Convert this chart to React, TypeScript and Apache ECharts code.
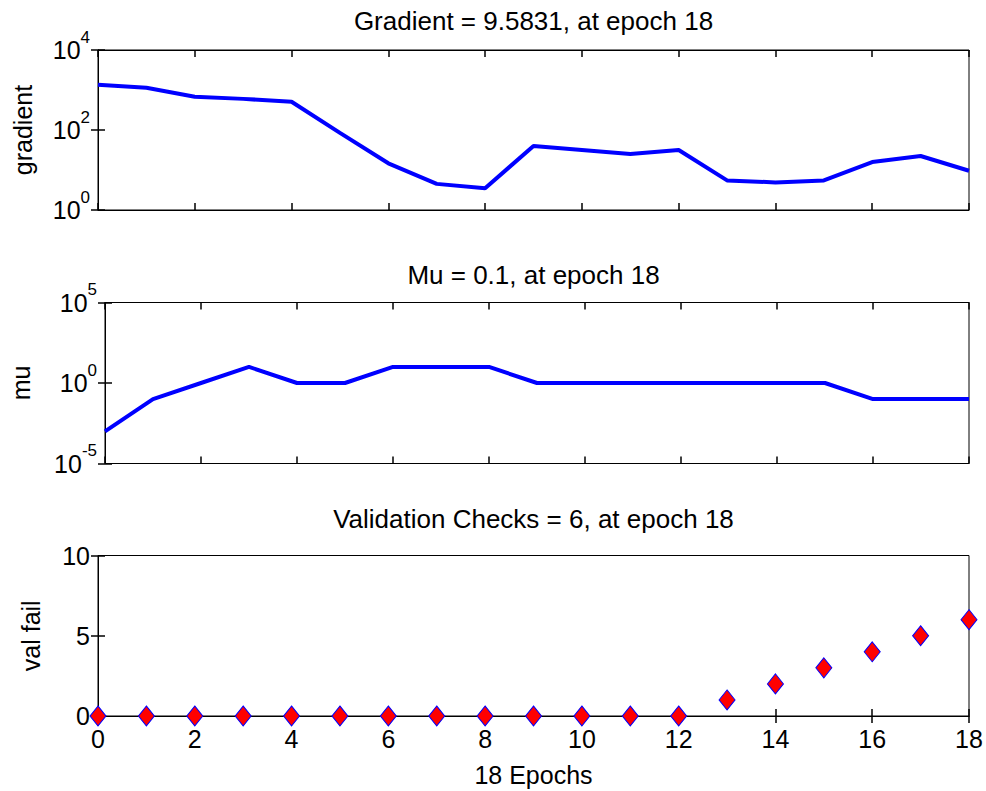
import React, { useEffect, useRef } from "react";
import * as echarts from "echarts";

const epochs = [0, 1, 2, 3, 4, 5, 6, 7, 8, 9, 10, 11, 12, 13, 14, 15, 16, 17, 18];
const gradientValues = [1350, 1140, 680, 600, 510, 85, 14.7, 4.5, 3.5, 40, 31.6, 25, 31.6, 5.5, 4.9, 5.5, 15.8, 22.4, 9.5831];
const muValues = [0.001, 0.1, 1, 10, 1, 1, 10, 10, 10, 1, 1, 1, 1, 1, 1, 1, 0.1, 0.1, 0.1];
const valFailValues = [0, 0, 0, 0, 0, 0, 0, 0, 0, 0, 0, 0, 0, 1, 2, 3, 4, 5, 6];

const titles = [
  "Gradient = 9.5831, at epoch 18",
  "Mu = 0.1, at epoch 18",
  "Validation Checks = 6, at epoch 18",
];
const yNames = ["gradient", "mu", "val fail"];
const xName = "18 Epochs";

const FONT = "'Liberation Sans', Arial, Helvetica, sans-serif";
const FS = 25;

export default function App() {
  const ref = useRef<HTMLDivElement>(null);
  useEffect(() => {
    document.body.style.margin = "0";
    if (!ref.current) return;
    const chart = echarts.init(ref.current, null, { renderer: "svg" });

    const grids = [
      { left: 98, top: 50, width: 871, height: 160 },
      { left: 98, top: 302.5, width: 871, height: 161 },
      { left: 98, top: 555.5, width: 871, height: 160.5 },
    ];

    const logFormatter = (v: number) => {
      const e = Math.round(Math.log10(v));
      return "{a|10}{b|" + e + "}";
    };
    const richLabel = {
      a: { fontSize: FS, fontFamily: FONT, color: "#000", lineHeight: 25 },
      b: { fontSize: 17, fontFamily: FONT, color: "#000", lineHeight: 17, padding: [0, 0, 26, 0] },
    };

    const xAxes: any[] = [];
    const yAxes: any[] = [];
    for (let i = 0; i < 3; i++) {
      const base = {
        type: "value",
        gridIndex: i,
        min: 0,
        max: 18,
        interval: 2,
        axisLine: { show: true, lineStyle: { color: "#000", width: 1 } },
        axisTick: { show: true, inside: true, length: 7, lineStyle: { color: "#000", width: 1.5 } },
        splitLine: { show: false },
      };
      xAxes.push({
        ...base,
        position: "bottom",
        axisLabel: i === 2
          ? { show: true, fontSize: FS, fontFamily: FONT, color: "#000", margin: 10 }
          : { show: false },
        name: i === 2 ? xName : "",
        nameLocation: "middle",
        nameGap: 46,
        nameTextStyle: { fontSize: FS, fontFamily: FONT, color: "#000" },
      });
      xAxes.push({ ...base, position: "top", axisLabel: { show: false } });
    }

    const yCommon = {
      axisLine: { show: true, lineStyle: { color: "#000", width: 1 } },
      axisTick: { show: true, inside: true, length: 7, lineStyle: { color: "#000", width: 1.5 } },
      splitLine: { show: false },
      nameLocation: "middle",
      nameTextStyle: { fontSize: FS, fontFamily: FONT, color: "#000" },
    };
    const yDefs = [
      { type: "log", logBase: 10, min: 1, max: 10000, interval: 2, nameGap: 63, log: true },
      { type: "log", logBase: 10, min: 0.00001, max: 100000, interval: 5, nameGap: 72, log: true },
      { type: "value", min: 0, max: 10, interval: 5, nameGap: 55, log: false },
    ];
    yDefs.forEach((d, i) => {
      const { log, ...rest } = d;
      yAxes.push({
        ...yCommon,
        ...rest,
        gridIndex: i,
        position: "left",
        name: yNames[i],
        axisLabel: log
          ? { show: true, formatter: logFormatter, rich: richLabel, margin: 8 }
          : { show: true, fontSize: FS, fontFamily: FONT, color: "#000", margin: 8 },
      });
      yAxes.push({
        ...yCommon,
        ...rest,
        gridIndex: i,
        position: "right",
        name: "",
        axisLabel: { show: false },
      });
    });

    const titleCenters = [21, 275, 519];
    const graphics = titles.map((t, i) => ({
      type: "text",
      x: 533.5,
      y: titleCenters[i],
      style: {
        text: t,
        fontSize: 26,
        fontFamily: FONT,
        fill: "#000",
        textAlign: "center",
        textVerticalAlign: "middle",
      },
    }));

    chart.setOption({
      animation: false,
      backgroundColor: "#fff",
      grid: grids.map((g) => ({ ...g, show: true, borderColor: "#000", borderWidth: 1, backgroundColor: "#fff" })),
      xAxis: xAxes,
      yAxis: yAxes,
      graphic: graphics,
      series: [
        {
          type: "line",
          xAxisIndex: 0,
          yAxisIndex: 0,
          data: epochs.map((e, i) => [e, gradientValues[i]]),
          showSymbol: false,
          symbol: "none",
          lineStyle: { color: "#0000ff", width: 4 },
        },
        {
          type: "line",
          xAxisIndex: 2,
          yAxisIndex: 2,
          data: epochs.map((e, i) => [e, muValues[i]]),
          showSymbol: false,
          symbol: "none",
          lineStyle: { color: "#0000ff", width: 4 },
        },
        {
          type: "scatter",
          xAxisIndex: 4,
          yAxisIndex: 4,
          data: epochs.map((e, i) => [e, valFailValues[i]]),
          symbol: "diamond",
          symbolSize: [16, 20],
          clip: false,
          itemStyle: { color: "#ff0000", borderColor: "#0000ff", borderWidth: 1, opacity: 1 },
          z: 10,
        },
      ],
    });
    return () => chart.dispose();
  }, []);
  return <div ref={ref} style={{ width: 986, height: 791 }} />;
}
